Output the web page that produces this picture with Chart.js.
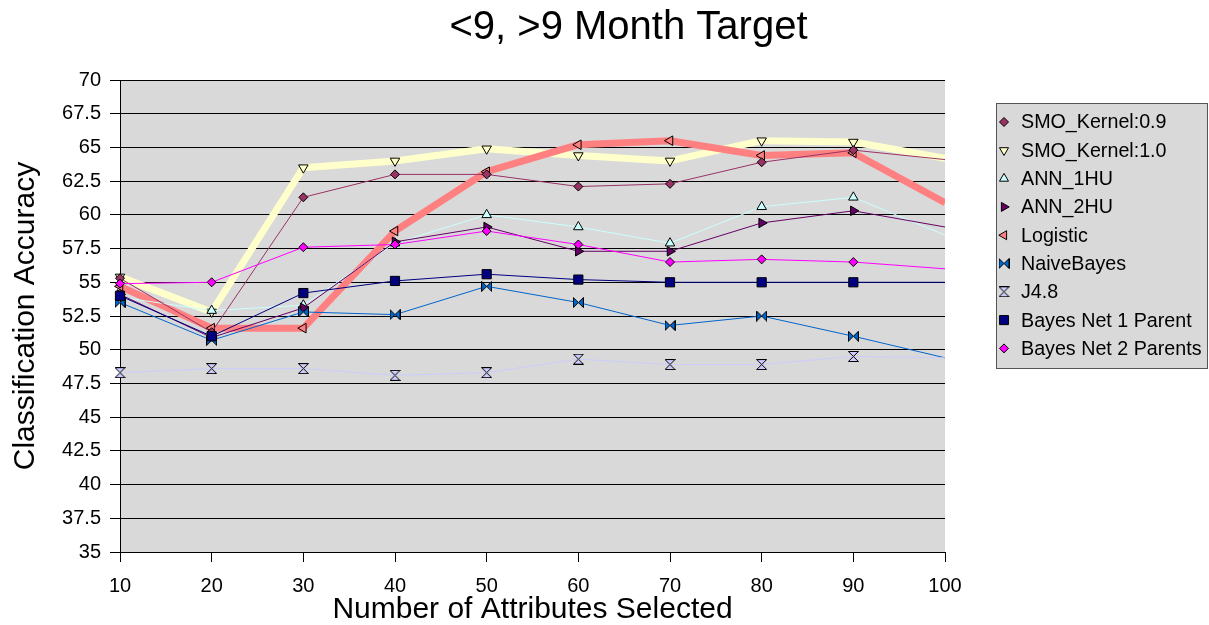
<!DOCTYPE html>
<html>
<head>
<meta charset="utf-8">
<script src="https://cdn.jsdelivr.net/npm/chart.js@4.4.1/dist/chart.umd.min.js"></script>
<style>
  html, body { margin: 0; padding: 0; background: #fff; }
  #wrap { width: 1209px; height: 625px; }
</style>
</head>
<body>
<div id="wrap"><canvas id="accChart" width="1209" height="625"></canvas></div>
<script>
/* =========================
   DATA
========================= */
const X_LABELS = ["10", "20", "30", "40", "50", "60", "70", "80", "90", "100"];

const SMO_K09   = [55.3, 51.3, 61.3, 63.0, 63.0, 62.1, 62.3, 63.9, 64.8, 64.1];
const SMO_K10   = [55.4, 52.8, 63.5, 64.0, 64.9, 64.4, 64.0, 65.5, 65.4, 64.2];
const ANN_1HU   = [53.9, 52.9, 53.3, 57.9, 60.0, 59.1, 57.9, 60.6, 61.3, 58.5];
const ANN_2HU   = [54.1, 50.9, 53.1, 58.0, 59.1, 57.3, 57.3, 59.4, 60.3, 59.1];
const LOGISTIC  = [54.7, 51.6, 51.6, 58.8, 63.2, 65.2, 65.5, 64.4, 64.6, 60.9];
const NAIVE     = [53.5, 50.7, 52.8, 52.6, 54.7, 53.5, 51.8, 52.5, 51.0, 49.4];
const J48       = [48.3, 48.6, 48.6, 48.1, 48.3, 49.3, 48.9, 48.9, 49.5, 49.4];
const BN_1P     = [54.0, 51.0, 54.2, 55.1, 55.6, 55.2, 55.0, 55.0, 55.0, 55.0];
const BN_2P     = [54.9, 55.0, 57.6, 57.8, 58.8, 57.8, 56.5, 56.7, 56.5, 56.0];

const Y_MIN = 35, Y_MAX = 70, Y_STEP = 2.5;

/* =========================
   CUSTOM MARKERS (bowtie / hourglass)
========================= */
function makeMarker(fill, vertical) {
  const c = document.createElement("canvas");
  c.width = 11; c.height = 11;
  const g = c.getContext("2d");
  g.beginPath();
  if (vertical) {
    g.moveTo(0.5, 0.5); g.lineTo(10.5, 0.5); g.lineTo(5.5, 5.5); g.closePath();
    g.moveTo(0.5, 10.5); g.lineTo(10.5, 10.5); g.lineTo(5.5, 5.5); g.closePath();
  } else {
    g.moveTo(0.5, 0.5); g.lineTo(0.5, 10.5); g.lineTo(5.5, 5.5); g.closePath();
    g.moveTo(10.5, 0.5); g.lineTo(10.5, 10.5); g.lineTo(5.5, 5.5); g.closePath();
  }
  g.fillStyle = fill; g.fill();
  g.strokeStyle = "#000"; g.lineWidth = 1; g.stroke();
  return c;
}

// last category sits on the clipped right edge -> no marker there
const lastIdx = X_LABELS.length - 1;
const radiusFor = (r) => (ctx) => (ctx.dataIndex === lastIdx ? 0 : r);

function series(label, data, color, opts) {
  return Object.assign({
    label,
    data,
    borderColor: color,
    backgroundColor: color,
    pointBackgroundColor: color,
    pointBorderColor: "#000",
    pointBorderWidth: 1,
    borderWidth: 1,
    borderJoinStyle: "round",
    tension: 0,
    clip: { left: 12, top: 12, bottom: 12, right: 0 },
  }, opts);
}

const datasets = [
  series("SMO_Kernel:0.9", SMO_K09, "#993366", { pointStyle: "rectRot", pointRadius: radiusFor(4.5), legendRadius: 4.5, order: 6 }),
  series("SMO_Kernel:1.0", SMO_K10, "#FFFFCC", { pointStyle: "triangle", pointRotation: 180, pointRadius: radiusFor(5.5), legendRadius: 5.2, borderWidth: 7, order: 10 }),
  series("ANN_1HU", ANN_1HU, "#CCFFFF", { pointStyle: "triangle", pointRadius: radiusFor(5.5), legendRadius: 5.2, order: 7 }),
  series("ANN_2HU", ANN_2HU, "#660066", { pointStyle: "triangle", pointRotation: 90, pointRadius: radiusFor(5.5), legendRadius: 5.2, order: 5 }),
  series("Logistic", LOGISTIC, "#FF8080", { pointStyle: "triangle", pointRotation: 270, pointRadius: radiusFor(5.5), legendRadius: 5.2, borderWidth: 7, order: 9 }),
  series("NaiveBayes", NAIVE, "#0066CC", { pointStyle: makeMarker("#0066CC", false), pointRadius: radiusFor(5), legendRadius: 5, order: 4 }),
  series("J4.8", J48, "#CCCCFF", { pointStyle: makeMarker("#CCCCFF", true), pointRadius: radiusFor(5), legendRadius: 5, order: 3 }),
  series("Bayes Net 1 Parent", BN_1P, "#000080", { pointStyle: "rect", pointRadius: radiusFor(6.5), legendRadius: 6.4, order: 2 }),
  series("Bayes Net 2 Parents", BN_2P, "#FF00FF", { pointStyle: "rectRot", pointRadius: radiusFor(4.5), legendRadius: 4.5, order: 1 }),
];

/* =========================
   PLUGINS
========================= */
const plotBg = {
  id: "plotBg",
  beforeDraw(chart) {
    const { ctx, chartArea: a } = chart;
    ctx.save();
    ctx.fillStyle = "#D9D9D9";
    ctx.fillRect(a.left, a.top, a.right - a.left, a.bottom - a.top);
    ctx.restore();
  },
};

const legendBox = {
  id: "legendBox",
  afterDraw(chart) {
    const ctx = chart.ctx;
    ctx.save();
    ctx.fillStyle = "#D9D9D9";
    ctx.fillRect(997, 104, 210, 264);
    ctx.strokeStyle = "#555";
    ctx.lineWidth = 1;
    ctx.strokeRect(996.5, 103.5, 211, 265);
    ctx.font = '19.7px "Liberation Sans", Arial, sans-serif';
    ctx.textBaseline = "middle";
    chart.data.datasets.forEach((ds, i) => {
      const y = 122 + i * 28.3;
      ctx.fillStyle = ds.pointBackgroundColor;
      ctx.strokeStyle = "#000";
      ctx.lineWidth = 1;
      ctx.beginPath();
      Chart.helpers.drawPoint(ctx, {
        pointStyle: ds.pointStyle,
        rotation: ds.pointRotation || 0,
        radius: ds.legendRadius,
        borderWidth: 1,
      }, 1004, y);
      ctx.fillStyle = "#000";
      ctx.fillText(ds.label, 1021, y + 1);
    });
    ctx.restore();
  },
};

/* =========================
   CHART
========================= */
Chart.defaults.font.family = '"Liberation Sans", Arial, sans-serif';
Chart.defaults.color = "#000";

new Chart(document.getElementById("accChart"), {
  type: "line",
  data: { labels: X_LABELS, datasets },
  options: {
    responsive: false,
    animation: false,
    events: [],
    layout: { padding: { left: 0, right: -48, top: 0, bottom: 0 } },
    plugins: {
      legend: { display: false },
      tooltip: { enabled: false },
      title: {
        display: true,
        text: "<9, >9 Month Target",
        font: { size: 40, weight: "normal" },
        color: "#000",
        padding: { top: 4, bottom: 28 },
      },
    },
    scales: {
      x: {
        type: "category",
        offset: false,
        grid: { drawOnChartArea: false, color: "#000", tickLength: 10 },
        border: { color: "#000", width: 1 },
        ticks: { font: { size: 20 }, color: "#000", padding: 12, maxRotation: 0, autoSkip: false },
        title: {
          display: true,
          text: "Number of Attributes Selected",
          font: { size: 30 },
          color: "#000",
          padding: { top: 0, bottom: -3 },
        },
        afterFit(s) { s.height = 73; },
      },
      y: {
        min: Y_MIN,
        max: Y_MAX,
        grid: { color: "#000", tickLength: 10 },
        border: { color: "#000", width: 1 },
        ticks: { stepSize: Y_STEP, font: { size: 20 }, color: "#000", padding: 9 },
        title: {
          display: true,
          text: "Classification Accuracy",
          font: { size: 30 },
          color: "#000",
          padding: { top: 8, bottom: 0 },
        },
        afterFit(s) { s.width = 120; },
      },
      y2: {
        position: "right",
        display: true,
        grid: { display: false },
        border: { display: false },
        ticks: { display: false },
        afterFit(s) { s.width = 312; },
      },
    },
  },
  plugins: [plotBg, legendBox],
});
</script>
</body>
</html>
